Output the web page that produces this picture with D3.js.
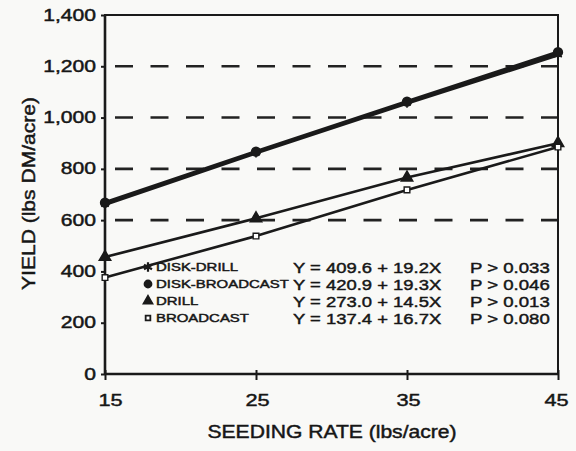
<!DOCTYPE html>
<html>
<head>
<meta charset="utf-8">
<script src="https://cdn.jsdelivr.net/npm/d3@7"></script>
<style>
  html, body { margin: 0; padding: 0; background: #f9f9f7; }
  svg { display: block; font-family: "Liberation Sans", Arial, Helvetica, sans-serif; }
  text { fill: #161616; stroke: #161616; stroke-width: 0.45; }
</style>
</head>
<body>
<svg id="chart" width="576" height="451"></svg>
<script>
// Seeding rate (lbs/acre) and yield (lbs DM/acre)
const seedingRates = [15, 25, 35, 45];
const diskDrill = [662, 862, 1056, 1245];
const diskBroadcast = [668, 867, 1062, 1255];
const drill = [456, 607, 766, 900];
const broadcast = [376, 538, 718, 885];

const seriesNames = ['DISK-DRILL', 'DISK-BROADCAST', 'DRILL', 'BROADCAST'];
const equations = ['Y = 409.6 + 19.2X', 'Y = 420.9 + 19.3X', 'Y = 273.0 + 14.5X', 'Y = 137.4 + 16.7X'];
const pValues = ['P > 0.033', 'P > 0.046', 'P > 0.013', 'P > 0.080'];

const yTicks = [0, 200, 400, 600, 800, 1000, 1200, 1400];
const gridTicks = [600, 800, 1000, 1200];

const M = { top: 15, right: 18, bottom: 77, left: 105 };
const W = 576, H = 451;
const innerW = W - M.left - M.right;
const innerH = H - M.top - M.bottom;
const INK = '#1a1a1a';

const svg = d3.select('#chart');
const g = svg.append('g').attr('transform', `translate(${M.left},${M.top})`);

const x = d3.scaleLinear().domain([15, 45]).range([0, innerW]);
const y = d3.scaleLinear().domain([0, 1400]).range([innerH, 0]);

// dashed grid
const dashLen = 18, gapLen = 17.5;
g.append('g').selectAll('line')
  .data(gridTicks)
  .join('line')
  .attr('x1', 0).attr('x2', innerW)
  .attr('y1', d => y(d)).attr('y2', d => y(d))
  .attr('stroke', '#222')
  .attr('stroke-width', 2.6)
  .attr('stroke-dasharray', `${dashLen} ${gapLen}`)
  .attr('stroke-dashoffset', dashLen + gapLen - 10);

// axes
const sxY = 1.32, sxX = 1.28;
const yAxis = g.append('g')
  .call(d3.axisLeft(y).tickValues(yTicks).tickSize(4).tickFormat(d3.format(',')));
yAxis.select('.domain').remove();
yAxis.selectAll('line').attr('stroke', INK).attr('stroke-width', 2);
yAxis.selectAll('text')
  .attr('font-size', 16)
  .attr('fill', '#161616')
  .attr('x', -9 / sxY)
  .attr('transform', `scale(${sxY},1)`);

const xAxis = g.append('g')
  .attr('transform', `translate(0,${innerH})`)
  .call(d3.axisBottom(x).tickValues(seedingRates).tickSize(6));
xAxis.select('.domain').remove();
xAxis.selectAll('line').attr('y1', -4).attr('stroke', INK).attr('stroke-width', 2);
xAxis.selectAll('text')
  .attr('font-size', 17)
  .attr('fill', '#161616')
  .attr('y', 32).attr('dy', 0)
  .attr('x', (d, i) => (i === 0 ? 5 : i === 3 ? -2 : 1) / sxX)
  .attr('transform', `scale(${sxX},1)`);

// frame
g.append('rect')
  .attr('width', innerW).attr('height', innerH)
  .attr('fill', 'none').attr('stroke', INK).attr('stroke-width', 2);
g.append('line')
  .attr('x1', 0).attr('x2', 0).attr('y1', 0).attr('y2', innerH)
  .attr('stroke', INK).attr('stroke-width', 2.6);
g.append('line')
  .attr('x1', 0).attr('x2', innerW).attr('y1', innerH).attr('y2', innerH)
  .attr('stroke', INK).attr('stroke-width', 2.6);

// series
const series = [
  { name: seriesNames[0], values: diskDrill, width: 3.5, symbol: d3.symbolAsterisk, size: 55, fill: 'none', legendSize: 60, legendStroke: 2.2 },
  { name: seriesNames[1], values: diskBroadcast, width: 3.5, symbol: d3.symbolCircle, size: 60, fill: INK, legendSize: 42, legendStroke: 1.5 },
  { name: seriesNames[2], values: drill, width: 2.6, symbol: d3.symbolTriangle, size: 55, fill: INK, legendSize: 38, legendStroke: 1.5 },
  { name: seriesNames[3], values: broadcast, width: 2.6, symbol: d3.symbolSquare, size: 32, fill: '#fff', legendSize: 22, legendStroke: 1.8 }
];

const line = d3.line()
  .x((d, i) => x(seedingRates[i]))
  .y(d => y(d));

for (const s of series) {
  g.append('path')
    .datum(s.values)
    .attr('d', line)
    .attr('fill', 'none')
    .attr('stroke', INK)
    .attr('stroke-width', s.width);
}
for (const s of series) {
  g.append('g').selectAll('path')
    .data(s.values)
    .join('path')
    .attr('transform', (d, i) => `translate(${x(seedingRates[i])},${y(d)})`)
    .attr('d', d3.symbol(s.symbol, s.size))
    .attr('fill', s.fill)
    .attr('stroke', INK)
    .attr('stroke-width', s.fill === '#fff' ? 1.4 : 1.6);
}

// legend
const legend = g.append('g').attr('transform', `translate(${148 - M.left},${271 - M.top})`);
const rowH = 17;
series.forEach((s, i) => {
  const row = legend.append('g').attr('transform', `translate(0,${i * rowH})`);
  row.append('path')
    .attr('transform', 'translate(0,-4)')
    .attr('d', d3.symbol(s.symbol, s.legendSize))
    .attr('fill', s.fill)
    .attr('stroke', INK)
    .attr('stroke-width', s.legendStroke);
  row.append('text')
    .attr('font-size', 11.5)
    .attr('x', 8 / 1.3)
    .attr('transform', 'scale(1.3,1)')
    .text(s.name);
  row.append('text')
    .attr('font-size', 15.5)
    .attr('x', 145 / 1.19)
    .attr('y', 1.5)
    .attr('transform', 'scale(1.19,1)')
    .text(equations[i]);
  row.append('text')
    .attr('font-size', 15.5)
    .attr('x', 322 / 1.2)
    .attr('y', 1.5)
    .attr('transform', 'scale(1.2,1)')
    .text(pValues[i]);
});

// axis titles
svg.append('text')
  .attr('x', 332).attr('y', 438)
  .attr('text-anchor', 'middle')
  .attr('font-size', 17.5)
  .attr('textLength', 249)
  .attr('lengthAdjust', 'spacingAndGlyphs')
  .text('SEEDING RATE (lbs/acre)');

svg.append('text')
  .attr('transform', 'translate(35,193.5) rotate(-90)')
  .attr('text-anchor', 'middle')
  .attr('font-size', 17.5)
  .attr('textLength', 193)
  .attr('lengthAdjust', 'spacingAndGlyphs')
  .text('YIELD (lbs DM/acre)');
</script>
</body>
</html>
